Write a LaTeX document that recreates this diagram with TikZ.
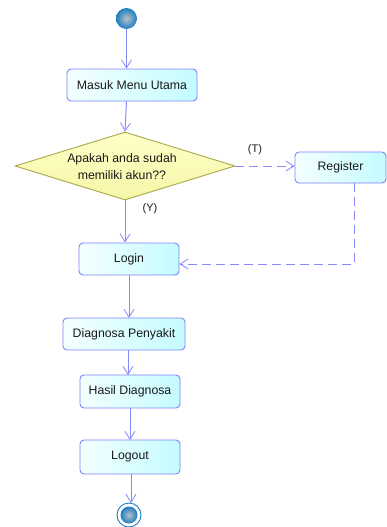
\documentclass[tikz,border=0pt]{standalone}
\usepackage{fontspec}
\setmainfont{Liberation Sans}
\usetikzlibrary{shapes.geometric,arrows.meta,calc}
\definecolor{lineblue}{HTML}{8888FF}
\definecolor{boxborder}{HTML}{8080F8}
\definecolor{boxleft}{HTML}{F4FFFF}
\definecolor{boxright}{HTML}{C4FCFF}
\definecolor{diaborder}{HTML}{A8A848}
\definecolor{diafill}{HTML}{FFFFC8}
\definecolor{diafill2}{HTML}{F6F6A8}
\definecolor{ballout}{HTML}{1E7EC0}
\definecolor{ballin}{HTML}{B8C0C8}
\begin{document}
\begin{tikzpicture}[x=1pt,y=-1pt,
  every node/.style={font=\fontsize{12.3}{14}\selectfont, text=black!90},
  actbox/.style={draw=boxborder, line width=0.9pt, rounded corners=4pt, left color=boxleft, right color=boxright, inner sep=0pt},
  decbox/.style={diamond, draw=diaborder, line width=0.9pt, top color=diafill, bottom color=diafill2, inner sep=0pt, align=center},
  flow/.style={draw=lineblue, line width=1pt, -{Straight Barb[length=8pt,width=10pt,line width=0.8pt]}},
  dflow/.style={flow, dash pattern=on 9pt off 5pt},
  lbl/.style={font=\fontsize{11}{13}\selectfont}
]
\useasboundingbox (0,0) rectangle (387,527);
% start
\node[circle, minimum size=21pt, inner sep=0pt, shading=radial, inner color=ballin, outer color=ballout] (start) at (126.5,18.5) {};
% activities
\node[actbox, minimum width=130pt, minimum height=32pt] (masuk) at (132,85) {Masuk Menu Utama};
\node[decbox, minimum width=220pt, minimum height=68pt] (tanya) at (125,166) {};
\node at (122,159) {Apakah anda sudah};
\node at (122,175) {memiliki akun??};
\node[actbox, minimum width=91pt, minimum height=31pt] (register) at (340.5,167.5) {Register};
\node[actbox, minimum width=100pt, minimum height=32pt] (login) at (129,259) {Login};
\node[actbox, minimum width=122pt, minimum height=32pt] (diag) at (124,334) {Diagnosa Penyakit};
\node[actbox, minimum width=100pt, minimum height=33pt] (hasil) at (130,391.5) {Hasil Diagnosa};
\node[actbox, minimum width=100pt, minimum height=34pt] (logout) at (130,457) {Logout};
% end
\node[circle, draw=ballout, line width=0.9pt, minimum size=24pt, inner sep=0pt] (end) at (129,515) {};
\node[circle, minimum size=17pt, inner sep=0pt, shading=radial, inner color=ballin, outer color=ballout] (endin) at (end) {};
% labels
\node[lbl] (lt) at (255,150) {(T)};
\node[lbl] (ly) at (150,209) {(Y)};
% helper coordinates
\coordinate (m1) at (start.south |- masuk.south);
\coordinate (t1) at (tanya.south |- login.north);
\coordinate (rb) at (354,183);
\coordinate (corner) at (354,264);
\coordinate (l1) at (login.east |- corner);
\coordinate (r1) at (register.west |- tanya.east);
\coordinate (a0) at (129,275);
\coordinate (a1) at (129,318);
\coordinate (b0) at (128,350);
\coordinate (b1) at (128,375);
\coordinate (c0) at (130,408);
\coordinate (c1) at (130,440);
\coordinate (d0) at (131,474);
\coordinate (d1) at (131,503);
% connectors
\draw[flow] (start.south) -- (start.south |- masuk.north);
\draw[flow] (m1) -- (tanya.north);
\draw[flow] (tanya.south) -- (t1);
\draw[dflow] (tanya.east) -- (r1);
\draw[dflow] (rb) -- (corner) -- (l1);
\draw[flow] (a0) -- (a1);
\draw[flow] (b0) -- (b1);
\draw[flow] (c0) -- (c1);
\draw[flow] (d0) -- (d1);
\end{tikzpicture}
\end{document}
